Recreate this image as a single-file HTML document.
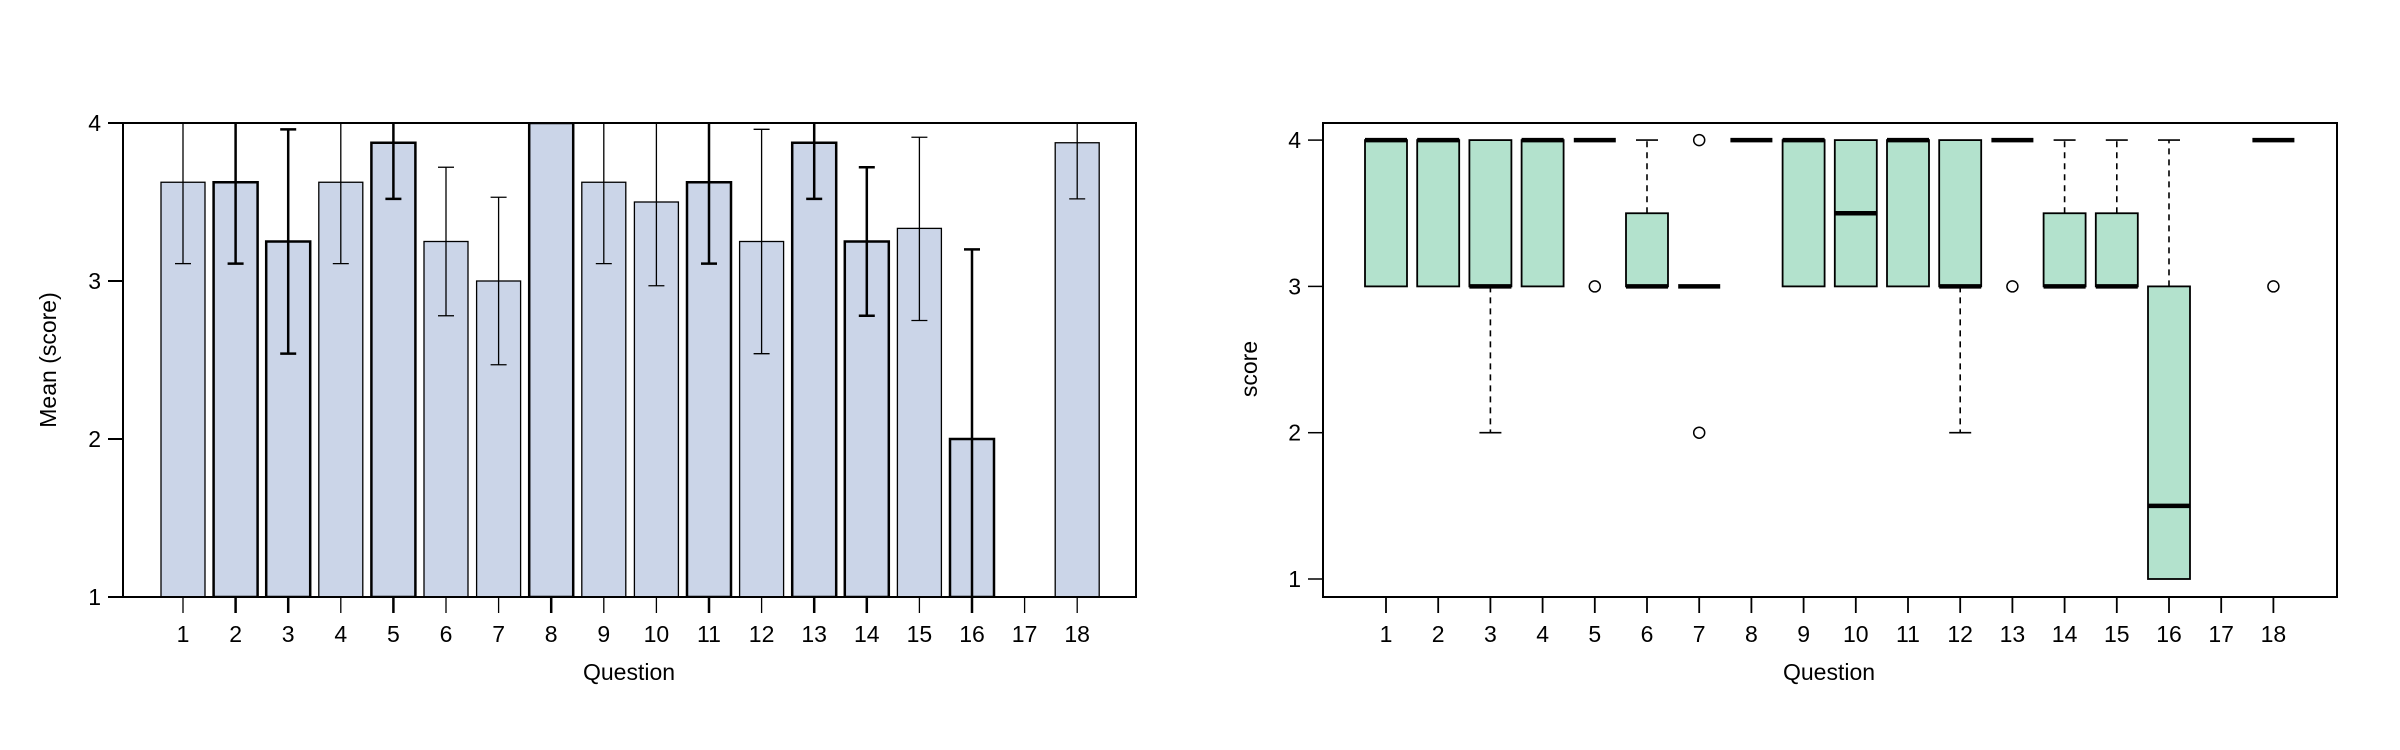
<!DOCTYPE html>
<html><head><meta charset="utf-8"><style>body{margin:0;background:#fff}svg{display:block}text{font-family:"Liberation Sans",sans-serif;fill:#000}</style></head>
<body>
<svg width="2400" height="750" viewBox="0 0 2400 750" xmlns="http://www.w3.org/2000/svg">
<g id="left"></g><g id="right"></g>
</svg>
<script>
const NS="http://www.w3.org/2000/svg";
function el(p,t,a,txt){const e=document.createElementNS(NS,t);for(const k in a)e.setAttribute(k,a[k]);if(txt!==undefined)e.textContent=txt;p.appendChild(e);return e;}
// LEFT
const L=document.getElementById('left');
const y1=v=>597-(v-1)*158, x1=i=>183+(i-1)*52.6;
const means=[3.625,3.625,3.25,3.625,3.875,3.25,3.0,4,3.625,3.5,3.625,3.25,3.875,3.25,3.333,2.0,null,3.875];
const err=[[3.11,4.1],[3.11,4.1],[2.54,3.96],[3.11,4.1],[3.52,4.1],[2.78,3.72],[2.47,3.53],null,[3.11,4.1],[2.97,4.1],[3.11,4.1],[2.54,3.96],[3.52,4.1],[2.78,3.72],[2.75,3.91],[0.9,3.2],null,[3.52,4.1]];
const thick=[0,1,1,0,1,0,0,1,0,0,1,0,1,1,0,1,0,0];
const cp=el(L,'clipPath',{id:'cl'});el(cp,'rect',{x:123,y:123,width:1013,height:474});
means.forEach((m,k)=>{if(m===null)return;const i=k+1,w=thick[k]?2.5:1.3;
 el(L,'rect',{x:x1(i)-22,y:y1(m),width:44,height:y1(1)-y1(m),fill:'#cbd5e8',stroke:'#000','stroke-width':w,'clip-path':'url(#cl)'});});
means.forEach((m,k)=>{const e=err[k];if(!e)return;const i=k+1,w=thick[k]?2.5:1.3,g=el(L,'g',{'clip-path':'url(#cl)',stroke:'#000','stroke-width':w});
 el(g,'line',{x1:x1(i),x2:x1(i),y1:y1(e[0]),y2:y1(e[1])});
 [e[0],e[1]].forEach(v=>{if(v>1&&v<4)el(g,'line',{x1:x1(i)-8,x2:x1(i)+8,y1:y1(v),y2:y1(v)});});});
el(L,'rect',{x:123,y:123,width:1013,height:474,fill:'none',stroke:'#000','stroke-width':2});
[1,2,3,4].forEach(v=>{el(L,'line',{x1:108,x2:123,y1:y1(v),y2:y1(v),stroke:'#000','stroke-width':2});el(L,'text',{x:101,y:y1(v)+8,'font-size':23,'text-anchor':'end'},v);});
for(let i=1;i<=18;i++){el(L,'line',{x1:x1(i),x2:x1(i),y1:597,y2:613,stroke:'#000','stroke-width':thick[i-1]?2.5:1.3});el(L,'text',{x:x1(i),y:642,'font-size':23,'text-anchor':'middle'},i);}
el(L,'text',{x:629,y:680,'font-size':23,'text-anchor':'middle'},'Question');
el(L,'text',{x:0,y:0,'font-size':23,'text-anchor':'middle',transform:'translate(56,360) rotate(-90)'},'Mean (score)');
// RIGHT
const R=document.getElementById('right');
const y2=v=>579-(v-1)*146.3, x2=i=>1386+(i-1)*52.2;
const boxes={1:[3,4,4],2:[3,4,4],3:[3,4,3,2,null],4:[3,4,4],5:[null,null,4],6:[3,3.5,3,null,4],7:[null,null,3],8:[null,null,4],9:[3,4,4],10:[3,4,3.5],11:[3,4,4],12:[3,4,3,2,null],13:[null,null,4],14:[3,3.5,3,null,4],15:[3,3.5,3,null,4],16:[1,3,1.5,null,4],18:[null,null,4]};
const outl={5:[3],7:[4,2],13:[3],18:[3]};
for(const k in boxes){const i=+k,b=boxes[k],x=x2(i);
 if(b[3]!=null){el(R,'line',{x1:x,x2:x,y1:y2(b[0]),y2:y2(b[3]),stroke:'#000','stroke-width':1.6,'stroke-dasharray':'6,5'});el(R,'line',{x1:x-11,x2:x+11,y1:y2(b[3]),y2:y2(b[3]),stroke:'#000','stroke-width':1.6});}
 if(b[4]!=null){el(R,'line',{x1:x,x2:x,y1:y2(b[1]),y2:y2(b[4]),stroke:'#000','stroke-width':1.6,'stroke-dasharray':'6,5'});el(R,'line',{x1:x-11,x2:x+11,y1:y2(b[4]),y2:y2(b[4]),stroke:'#000','stroke-width':1.6});}
 if(b[0]!=null)el(R,'rect',{x:x-21,y:y2(b[1]),width:42,height:y2(b[0])-y2(b[1]),fill:'#b3e2cd',stroke:'#000','stroke-width':1.8});
 el(R,'line',{x1:x-21,x2:x+21,y1:y2(b[2]),y2:y2(b[2]),stroke:'#000','stroke-width':4.5});}
for(const k in outl)outl[k].forEach(v=>el(R,'circle',{cx:x2(+k),cy:y2(v),r:5.5,fill:'none',stroke:'#000','stroke-width':1.5}));
el(R,'rect',{x:1323,y:123,width:1014,height:474,fill:'none',stroke:'#000','stroke-width':2});
[1,2,3,4].forEach(v=>{el(R,'line',{x1:1308,x2:1323,y1:y2(v),y2:y2(v),stroke:'#000','stroke-width':1.5});el(R,'text',{x:1301,y:y2(v)+8,'font-size':23,'text-anchor':'end'},v);});
for(let i=1;i<=18;i++){el(R,'line',{x1:x2(i),x2:x2(i),y1:597,y2:613,stroke:'#000','stroke-width':1.8});el(R,'text',{x:x2(i),y:642,'font-size':23,'text-anchor':'middle'},i);}
el(R,'text',{x:1829,y:680,'font-size':23,'text-anchor':'middle'},'Question');
el(R,'text',{x:0,y:0,'font-size':23,'text-anchor':'middle',transform:'translate(1257,369) rotate(-90)'},'score');
</script>
</body></html>
